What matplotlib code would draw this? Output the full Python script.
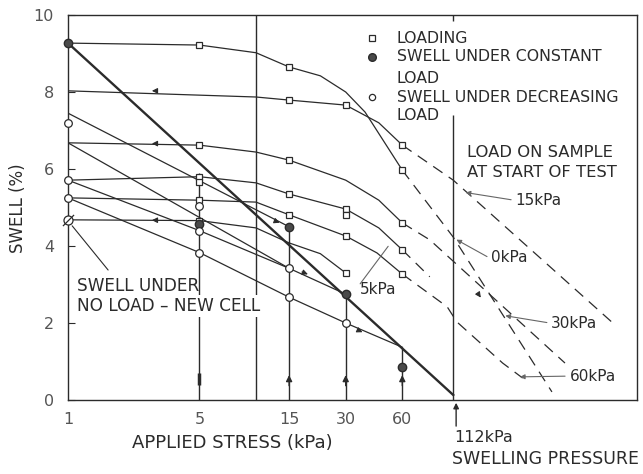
import matplotlib
matplotlib.use('Agg')
import matplotlib.pyplot as plt
import numpy as np

plt.rcParams['font.family'] = 'DejaVu Sans'
ink = '#2b2b2b'
grey = '#555555'

# loading curves (stress kPa, swell %), index of points carrying a square
a_x = [1, 5, 10, 15, 22, 30, 38, 60]
a_y = [9.27, 9.22, 9.02, 8.65, 8.42, 8.0, 7.48, 5.97]
a_sq = [1, 3, 7]
b_x = [1, 10, 15, 30, 45, 60]
b_y = [8.03, 7.87, 7.79, 7.66, 7.2, 6.62]
b_sq = [2, 3, 5]
c_x = [1, 5, 10, 15, 30, 45, 60]
c_y = [6.68, 6.62, 6.44, 6.23, 5.71, 5.19, 4.6]
c_sq = [1, 3, 6]
d_x = [1, 5, 10, 15, 30, 45, 60]
d_y = [5.71, 5.8, 5.64, 5.35, 4.96, 4.47, 3.9]
d_sq = [1, 3, 4, 6]
e_x = [1, 5, 10, 15, 30, 44, 60]
e_y = [5.25, 5.19, 5.14, 4.81, 4.26, 3.82, 3.27]
e_sq = [1, 3, 4, 6]
f_x = [1, 5, 10, 15, 22, 30]
f_y = [4.68, 4.66, 4.47, 4.08, 3.8, 3.3]
f_sq = [1, 5]
extra_sq_x = [5, 30]
extra_sq_y = [5.66, 4.8]

# dashed extrapolations beyond 60 kPa
a_dx, a_dy = [60, 112, 375], [5.97, 4.23, 0.21]
b_dx, b_dy = [60, 112, 812], [6.62, 5.71, 1.95]
c_dx, c_dy = [60, 84, 440], [4.6, 4.16, 0.96]
d_dx, d_dy = [60, 84], [3.9, 3.2]
e_dx, e_dy = [60, 104, 117, 205, 262], [3.27, 2.42, 2.03, 0.96, 0.57]

# swell under decreasing load
l1_x, l1_y = [1, 15], [7.45, 4.5]
l2_x, l2_y = [1, 5, 15, 30], [5.71, 4.4, 3.42, 2.75]
l3_x, l3_y = [1, 15], [6.68, 3.42]
l4_x, l4_y = [1, 5, 15, 30, 60], [5.25, 3.83, 2.67, 2.0, 1.37]
thick_x, thick_y = [1, 112], [9.27, 0.13]

const_x = [1, 5, 15, 30, 60]
const_y = [9.27, 4.58, 4.5, 2.75, 0.86]
dec_x = [1, 1, 1, 5, 5, 5, 15, 15, 30]
dec_y = [7.2, 5.71, 5.25, 5.05, 4.4, 3.83, 3.42, 2.67, 2.0]
new_cell_x, new_cell_y = [1], [4.68]

stem_x = [5, 15, 30, 60]
stem_top = [5.9, 4.5, 2.75, 1.37]
swell_pressure = 112

xtick_vals = [1, 5, 15, 30, 60]
ytick_vals = [0, 2, 4, 6, 8, 10]

fig = plt.figure(figsize=(6.43, 4.74), dpi=100)
ax = fig.add_axes([68/643, 74/474, 569/643, 385/474])
ax.set_xscale('log')
ax.set_xlim(1, 1063)
ax.set_ylim(0, 10)

for cx, cy, sq in [(a_x, a_y, a_sq), (b_x, b_y, b_sq), (c_x, c_y, c_sq),
                   (d_x, d_y, d_sq), (e_x, e_y, e_sq), (f_x, f_y, f_sq)]:
    ax.plot(cx, cy, color=ink, lw=0.9, zorder=2)
    ax.plot(np.array(cx)[sq], np.array(cy)[sq], 's', ms=5, mfc='white',
            mec=ink, mew=0.9, zorder=4)
ax.plot(extra_sq_x, extra_sq_y, 's', ms=5, mfc='white', mec=ink, mew=0.9, zorder=4)

for dx, dy in [(a_dx, a_dy), (b_dx, b_dy), (c_dx, c_dy), (d_dx, d_dy), (e_dx, e_dy)]:
    ax.plot(dx, dy, color=ink, lw=0.9, dashes=(9, 6), zorder=2)

for lx, ly in [(l1_x, l1_y), (l2_x, l2_y), (l3_x, l3_y), (l4_x, l4_y)]:
    ax.plot(lx, ly, color=ink, lw=0.9, zorder=2)
ax.plot(thick_x, thick_y, color=ink, lw=1.7, zorder=3)

ax.plot(const_x, const_y, 'o', ms=6, mfc='#4a4a4a', mec=ink, mew=1.0, zorder=5,
        clip_on=False)
ax.plot(dec_x, dec_y, 'o', ms=5.5, mfc='white', mec=ink, mew=0.9, zorder=5,
        clip_on=False)
ax.plot(new_cell_x, new_cell_y, 'o', ms=6.5, mfc='white', mec=ink, mew=0.9, zorder=5,
        clip_on=False)
ax.plot(new_cell_x, new_cell_y, marker=[(-1, -1), (1, 1)], ms=8, mec=ink, mew=0.9,
        ls='none', zorder=6, clip_on=False)

# stems, divider and swelling pressure line
ax.vlines(stem_x, 0, stem_top, color=ink, lw=1.0, zorder=2)
for sx in stem_x[1:]:
    ax.annotate('', xy=(sx, 0.72), xytext=(sx, 0.3),
                arrowprops=dict(arrowstyle='-|>', color=ink, lw=1.0, mutation_scale=9))
ax.vlines(stem_x[0], 0.4, 0.7, color=ink, lw=2.5)
ax.axvline(10, color=ink, lw=1.0, zorder=1)
ax.vlines(swell_pressure, 0, 7.4, color=ink, lw=1.0, zorder=1)
ax.vlines(swell_pressure, 9.85, 10, color=ink, lw=1.0)


def arrow_on(x0, y0, x1, y1):
    ax.annotate('', xy=(x1, y1), xytext=(x0, y0),
                arrowprops=dict(arrowstyle='-|>', color=ink, lw=0.8, mutation_scale=8))


arrow_on(3.0, 8.03, 2.7, 8.03)
arrow_on(3.0, 6.66, 2.7, 6.66)
arrow_on(3.0, 4.67, 2.7, 4.67)
arrow_on(12.5, 4.66, 13.8, 4.58)
arrow_on(17.0, 3.35, 19.5, 3.24)
arrow_on(34, 1.84, 38, 1.73)
arrow_on(150, 2.8, 160, 2.6)

# annotations
ax.text(1.12, 2.97, 'SWELL UNDER', fontsize=12.2, color=ink, va='center', zorder=8)
ax.text(1.12, 2.43, 'NO LOAD \u2013 NEW CELL', fontsize=12.2, color=ink, va='center',
        zorder=7, bbox=dict(fc='white', ec='none', pad=1.5))
ax.annotate('', xy=(1.03, 4.58), xytext=(1.67, 3.32),
            arrowprops=dict(arrowstyle='-', color=ink, lw=0.8))

ax.text(132, 6.42, 'LOAD ON SAMPLE', fontsize=11.8, color=ink, va='center')
ax.text(132, 5.9, 'AT START OF TEST', fontsize=11.8, color=ink, va='center')
for label, tx, ty, px, py in [('15kPa', 240, 5.19, 126, 5.4),
                              ('0kPa', 178, 3.69, 113, 4.2),
                              ('30kPa', 372, 2.0, 205, 2.2),
                              ('60kPa', 465, 0.62, 245, 0.6),
                              ('5kPa', 35.8, 2.86, 51.5, 4.05)]:
    ax.text(tx, ty, label, fontsize=11, color=ink, va='center')
    ax.annotate('', xy=(px, py), xytext=(tx * 0.98, ty + 0.1 if label == '5kPa' else ty),
                arrowprops=dict(arrowstyle='-|>' if label != '5kPa' else '-',
                                color='#666666', lw=0.8, mutation_scale=7))

# legend drawn by hand
lx_m, lx_t = 0.534, 0.578
ax.plot([lx_m], [0.940], 's', ms=4.5, mfc='white', mec=ink, mew=0.9, transform=ax.transAxes)
ax.plot([lx_m], [0.891], 'o', ms=5.5, mfc='#4a4a4a', mec=ink, transform=ax.transAxes)
ax.plot([lx_m], [0.787], 'o', ms=4.5, mfc='white', mec=ink, mew=0.9, transform=ax.transAxes)
for ty, txt in [(0.940, 'LOADING'), (0.891, 'SWELL UNDER CONSTANT'), (0.836, 'LOAD'),
                (0.787, 'SWELL UNDER DECREASING'), (0.740, 'LOAD')]:
    ax.text(lx_t, ty, txt, transform=ax.transAxes, fontsize=11.3, color=ink, va='center')

# axes styling
for s in ax.spines.values():
    s.set_color(ink)
    s.set_linewidth(1.0)
ax.set_yticks(ytick_vals)
ax.set_yticklabels([str(v) for v in ytick_vals], fontsize=11.5, color=grey)
ax.tick_params(axis='y', direction='in', length=5, pad=10, color=ink)
ax.set_xticks(xtick_vals)
ax.set_xticklabels([str(v) for v in xtick_vals], fontsize=11.5, color=grey)
ax.xaxis.set_minor_locator(matplotlib.ticker.NullLocator())
ax.tick_params(axis='x', length=0, pad=9)

fig.text(232/643, 1 - 443/474, 'APPLIED STRESS (kPa)', fontsize=13, color=ink,
         ha='center', va='center')
fig.text(18/643, 1 - 208/474, 'SWELL (%)', fontsize=12, color=ink, rotation=90,
         ha='center', va='center')
fig.text(454/643, 1 - 437/474, '112kPa', fontsize=11.5, color=ink, va='center')
fig.text(452/643, 1 - 459/474, 'SWELLING PRESSURE', fontsize=12.5, color=ink, va='center')
ax.annotate('', xy=(116, 0), xytext=(116, -0.75), annotation_clip=False,
            arrowprops=dict(arrowstyle='-|>', color=ink, lw=1.0, mutation_scale=8))

fig.savefig('out.png', dpi=100, facecolor='white')
